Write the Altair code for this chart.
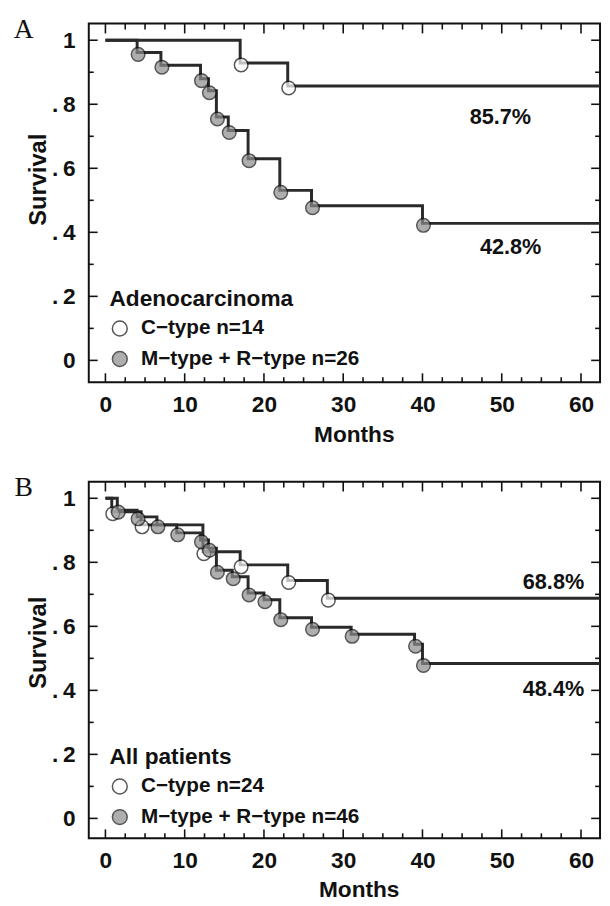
import altair as alt
import pandas as pd

# ---------------- data ----------------
# Panel A : Adenocarcinoma
A_c_label = "C\u2212type n=14"
A_m_label = "M\u2212type + R\u2212type n=26"
A_c_time = [0, 17, 23]
A_c_surv = [1.0, 0.929, 0.857]
A_m_time = [0, 4, 7, 12, 13, 14, 15.5, 18, 22, 26, 40]
A_m_surv = [1.0, 0.962, 0.922, 0.880, 0.842, 0.760, 0.718, 0.630, 0.531, 0.483, 0.428]

# Panel B : All patients
B_c_label = "C\u2212type n=24"
B_m_label = "M\u2212type + R\u2212type n=46"
B_c_time = [0, 0.8, 4.5, 12.3, 17, 23, 28]
B_c_surv = [1.0, 0.958, 0.917, 0.833, 0.792, 0.743, 0.688]
B_m_time = [0, 1.5, 4, 6.5, 9, 12, 13, 14, 16, 18, 20, 22, 26, 31, 39, 40]
B_m_surv = [1.0, 0.963, 0.942, 0.917, 0.892, 0.870, 0.844, 0.775, 0.755, 0.704,
            0.683, 0.627, 0.597, 0.575, 0.544, 0.484]

FOLLOW_UP_END = 65

x_major = [0, 10, 20, 30, 40, 50, 60]
x_minor = [2.5, 5, 7.5, 12.5, 15, 17.5, 22.5, 25, 27.5, 32.5, 35, 37.5,
           42.5, 45, 47.5, 52.5, 55, 57.5]
y_major = [0, 0.2, 0.4, 0.6, 0.8, 1.0]
y_minor = [0.1, 0.3, 0.5, 0.7, 0.9]

A_pct = ["85.7%", "42.8%"]
B_pct = ["68.8%", "48.4%"]

FONT = "Liberation Sans"
INK = "#111111"
W = 519


def curve_df(label, t, s):
    rows = [{"group": label, "month": a, "surv": b} for a, b in zip(t, s)]
    rows.append({"group": label, "month": FOLLOW_UP_END, "surv": s[-1]})
    return rows


def event_df(label, t, s):
    return [{"group": label, "month": a, "surv": b} for a, b in zip(t, s) if a > 0]


def panel(letter, heading, c_label, m_label, c_t, c_s, m_t, m_s, pct, pct_x, pct_dy,
          height, ydom, title_y, months_x, months_y):
    xdom = [-2.1, 62.4]
    xs = alt.Scale(domain=xdom, nice=False, zero=False)
    ys = alt.Scale(domain=ydom, nice=False, zero=False)
    xax = alt.Axis(values=x_major, title="Months", domain=False, ticks=False, tickSize=0,
                   grid=False, labelPadding=12, labelFlush=False,
                   labelFont=FONT, labelFontSize=23, labelFontWeight="bold", labelColor=INK,
                   titleFont=FONT, titleFontSize=23, titleFontWeight="bold", titleColor=INK,
                   titleX=months_x, titleY=months_y, titleBaseline="middle")
    yax = alt.Axis(values=y_major, title="Survival", domain=False, ticks=False, tickSize=0,
                   grid=False, labelPadding=14,
                   labelFont=FONT, labelFontSize=23, labelFontWeight="bold", labelColor=INK,
                   titleFont=FONT, titleFontSize=24, titleFontWeight="bold", titleColor=INK,
                   labelExpr="datum.value == 0 ? '0' : datum.value == 1 ? '1' : '.\u2009' + round(datum.value * 10)",
                   titleX=-51, titleY=title_y, titleBaseline="middle", titleAlign="center")
    X = alt.X("month:Q", scale=xs, axis=xax)
    Y = alt.Y("surv:Q", scale=ys, axis=yax)

    curves = pd.DataFrame(curve_df(c_label, c_t, c_s) + curve_df(m_label, m_t, m_s))
    events = pd.DataFrame(event_df(c_label, c_t, c_s) + event_df(m_label, m_t, m_s))

    lines = alt.Chart(curves).mark_line(
        interpolate="step-after", color="#2a2a2a", strokeWidth=3, clip=True
    ).encode(x=X, y=Y, detail="group:N")

    pts = alt.Chart(events).mark_point(
        filled=True, shape="circle", size=190, stroke=INK, strokeWidth=1.5, yOffset=2, xOffset=1
    ).encode(
        x=X, y=Y,
        fill=alt.Fill("group:N",
                      scale=alt.Scale(domain=[c_label, m_label], range=["white", "#8c8c8c"]),
                      sort=[c_label, m_label],
                      legend=alt.Legend(
                          title="\u2003" + heading, orient="none", legendX=21, legendY=269,
                          titleFont=FONT, titleFontSize=23, titleFontWeight="bold", titleColor=INK,
                          titlePadding=7, titleLimit=400,
                          labelFont=FONT, labelFontSize=21, labelFontWeight="bold", labelColor=INK,
                          labelOffset=11, labelLimit=400, rowPadding=8,
                          symbolType="circle", symbolSize=227, symbolStrokeWidth=1.5,
                          symbolStrokeColor=INK)),
    )

    # inner ticks on all four sides
    ymaj = pd.DataFrame({"surv": y_major})
    ymin = pd.DataFrame({"surv": y_minor})
    xmaj = pd.DataFrame({"month": x_major})
    xmin = pd.DataFrame({"month": x_minor})
    tk = dict(color=INK, strokeWidth=1.6)
    ticks = [
        alt.Chart(ymaj).mark_rule(**tk).encode(y=Y, x=alt.value(0), x2=alt.value(9)),
        alt.Chart(ymin).mark_rule(**tk).encode(y=Y, x=alt.value(0), x2=alt.value(5)),
        alt.Chart(ymaj).mark_rule(**tk).encode(y=Y, x=alt.value(W - 9), x2=alt.value(W)),
        alt.Chart(ymin).mark_rule(**tk).encode(y=Y, x=alt.value(W - 5), x2=alt.value(W)),
        alt.Chart(xmaj).mark_rule(**tk).encode(x=X, y=alt.value(0), y2=alt.value(10)),
        alt.Chart(xmin).mark_rule(**tk).encode(x=X, y=alt.value(0), y2=alt.value(6)),
        alt.Chart(xmaj).mark_rule(**tk).encode(x=X, y=alt.value(height - 9), y2=alt.value(height)),
        alt.Chart(xmin).mark_rule(**tk).encode(x=X, y=alt.value(height - 5), y2=alt.value(height)),
    ]

    finals = [c_s[-1], m_s[-1]]
    texts = []
    for lab, fx, fy, dy in zip(pct, pct_x, finals, pct_dy):
        d = pd.DataFrame({"label": [lab], "month": [fx], "surv": [fy]})
        texts.append(alt.Chart(d).mark_text(
            align="right", baseline="middle", font=FONT, fontSize=22, fontWeight="bold",
            color=INK, dy=dy
        ).encode(x=X, y=Y, text="label:N"))

    let = alt.Chart(pd.DataFrame({"letter": [letter]})).mark_text(
        font="Liberation Serif", fontSize=28, align="center", baseline="middle", color=INK
    ).encode(x=alt.value(-66), y=alt.value(7), text="letter:N")

    return alt.layer(lines, *ticks, pts, *texts, let).properties(width=W, height=height)


pA = panel("A", "Adenocarcinoma", A_c_label, A_m_label, A_c_time, A_c_surv, A_m_time, A_m_surv,
           A_pct, [53.7, 55.0], [32, 24], 364, [-0.068, 1.052], 158, 269, 53)
pB = panel("B", "All patients", B_c_label, B_m_label, B_c_time, B_c_surv, B_m_time, B_m_surv,
           B_pct, [60.4, 60.4], [-16, 26], 362, [-0.062, 1.052], 163, 274, 52)

chart = alt.vconcat(pA, pB, spacing=101, bounds="flush").resolve_scale(
    x="independent", y="independent", fill="independent"
).resolve_legend(fill="independent").properties(
    padding={"left": 4, "top": 1, "right": 0, "bottom": 0},
    background="white"
).configure_view(
    stroke=INK, strokeWidth=2
)

chart.save("out.html", embed_options={"renderer": "svg", "actions": False})
